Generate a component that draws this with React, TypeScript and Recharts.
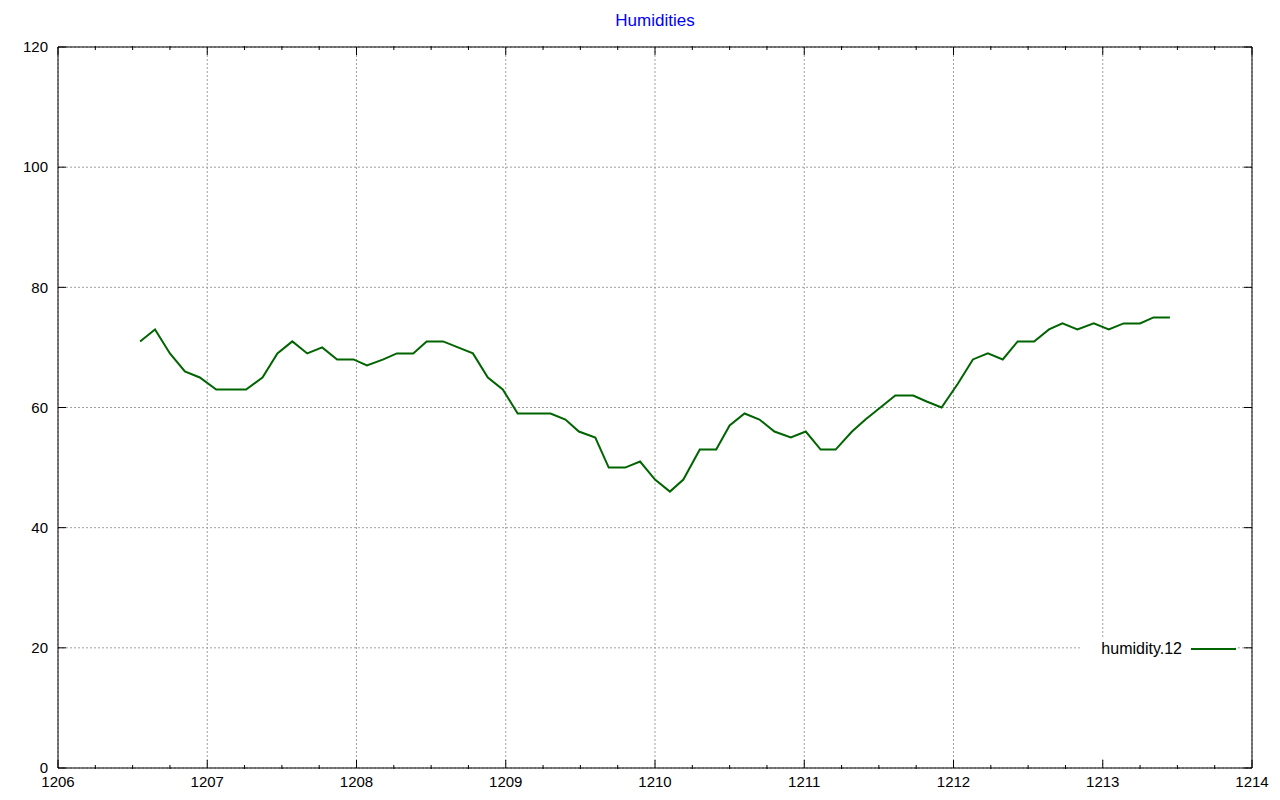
import { CartesianGrid, Line, LineChart, ReferenceArea, XAxis, YAxis } from 'recharts'

// time (day.fraction) of each reading
const TIMES = [
  1206.55, 1206.65, 1206.75, 1206.85, 1206.95,
  1207.06, 1207.16, 1207.26, 1207.37, 1207.47, 1207.57, 1207.67, 1207.77, 1207.87, 1207.98,
  1208.07, 1208.18, 1208.27, 1208.38, 1208.47, 1208.58, 1208.68, 1208.78, 1208.88, 1208.98,
  1209.08, 1209.19, 1209.3, 1209.4, 1209.49, 1209.6, 1209.69, 1209.8, 1209.9,
  1210.0, 1210.1, 1210.19, 1210.3, 1210.41, 1210.5, 1210.6, 1210.7, 1210.8, 1210.91,
  1211.01, 1211.11, 1211.21, 1211.32, 1211.41, 1211.51, 1211.61, 1211.73, 1211.82, 1211.92,
  1212.03, 1212.13, 1212.23, 1212.33, 1212.43, 1212.54, 1212.64, 1212.73, 1212.83, 1212.94,
  1213.04, 1213.14, 1213.25, 1213.34, 1213.45,
]

const HUMIDITY_12 = [
  71, 73, 69, 66, 65,
  63, 63, 63, 65, 69, 71, 69, 70, 68, 68,
  67, 68, 69, 69, 71, 71, 70, 69, 65, 63,
  59, 59, 59, 58, 56, 55, 50, 50, 51,
  48, 46, 48, 53, 53, 57, 59, 58, 56, 55,
  56, 53, 53, 56, 58, 60, 62, 62, 61, 60,
  64, 68, 69, 68, 71, 71, 73, 74, 73, 74,
  73, 74, 74, 75, 75,
]

const X_TICKS = [1206, 1207, 1208, 1209, 1210, 1211, 1212, 1213, 1214]
const X_MINOR_TICKS = [
  1206.25, 1206.5, 1206.75, 1207.25, 1207.5, 1207.75, 1208.25, 1208.5, 1208.75,
  1209.25, 1209.5, 1209.75, 1210.25, 1210.5, 1210.75, 1211.25, 1211.5, 1211.75,
  1212.25, 1212.5, 1212.75, 1213.25, 1213.5, 1213.75,
]
const Y_TICKS = [0, 20, 40, 60, 80, 100, 120]

const SERIES_NAME = 'humidity.12'
const TITLE = 'Humidities'

const data = TIMES.map((t, i) => ({ t, h: HUMIDITY_12[i] }))

const FONT = '"Liberation Sans", Arial, sans-serif'
const INK = '#000000'
const LINE_COLOR = '#006400'
const blank = () => ''

export default function App() {
  return (
    <div style={{ position: 'absolute', left: 0, top: 0, width: 1280, height: 800, background: '#fff', fontFamily: FONT }}>
      <div
        style={{
          position: 'absolute',
          left: 0,
          width: 1310,
          top: 10,
          textAlign: 'center',
          color: '#0000ff',
          fontSize: 17,
          lineHeight: '22px',
        }}
      >
        {TITLE}
      </div>
      <LineChart width={1280} height={800} data={data} margin={{ top: 45, right: 27, bottom: 30, left: 57 }}>
        <CartesianGrid stroke="#a0a0a0" strokeDasharray="2 2" />
        <XAxis
          dataKey="t"
          type="number"
          domain={[1206, 1214]}
          ticks={X_TICKS}
          interval={0}
          height={1}
          allowDataOverflow
          tickSize={-8}
          tickMargin={16}
          axisLine={{ stroke: INK }}
          tickLine={{ stroke: INK }}
          tick={{ fill: INK, fontSize: 15, fontFamily: FONT }}
        />
        <XAxis
          xAxisId="minor"
          dataKey="t"
          type="number"
          domain={[1206, 1214]}
          ticks={X_MINOR_TICKS}
          interval={0}
          height={1}
          allowDataOverflow
          tickSize={-4}
          axisLine={false}
          tickLine={{ stroke: INK }}
          tickFormatter={blank}
        />
        <XAxis
          xAxisId="top"
          orientation="top"
          dataKey="t"
          type="number"
          domain={[1206, 1214]}
          ticks={X_TICKS}
          interval={0}
          height={1}
          allowDataOverflow
          tickSize={-8}
          axisLine={{ stroke: INK }}
          tickLine={{ stroke: INK }}
          tickFormatter={blank}
        />
        <XAxis
          xAxisId="topMinor"
          orientation="top"
          dataKey="t"
          type="number"
          domain={[1206, 1214]}
          ticks={X_MINOR_TICKS}
          interval={0}
          height={1}
          allowDataOverflow
          tickSize={-4}
          axisLine={false}
          tickLine={{ stroke: INK }}
          tickFormatter={blank}
        />
        <YAxis
          type="number"
          domain={[0, 120]}
          ticks={Y_TICKS}
          interval={0}
          width={1}
          allowDataOverflow
          tickSize={-8}
          tickMargin={18}
          axisLine={{ stroke: INK }}
          tickLine={{ stroke: INK }}
          tick={{ fill: INK, fontSize: 15, fontFamily: FONT }}
        />
        <YAxis
          yAxisId="right"
          orientation="right"
          type="number"
          domain={[0, 120]}
          ticks={Y_TICKS}
          interval={0}
          width={1}
          allowDataOverflow
          tickSize={-8}
          axisLine={{ stroke: INK }}
          tickLine={{ stroke: INK }}
          tickFormatter={blank}
        />
        {/* opaque key box, like gnuplot's */}
        <ReferenceArea x1={1212.85} x2={1213.89} y1={1.5} y2={21.7} fill="#ffffff" fillOpacity={1} stroke="none" ifOverflow="visible" />
        <Line
          type="linear"
          dataKey="h"
          name={SERIES_NAME}
          stroke={LINE_COLOR}
          strokeWidth={2}
          dot={false}
          activeDot={false}
          isAnimationActive={false}
        />
      </LineChart>
      <div
        style={{
          position: 'absolute',
          left: 1060,
          top: 638,
          width: 180,
          height: 22,
          display: 'flex',
          alignItems: 'center',
          justifyContent: 'flex-end',
          fontSize: 16,
          color: INK,
        }}
      >
        <span>{SERIES_NAME}</span>
        <span style={{ display: 'inline-block', width: 45, height: 2, background: LINE_COLOR, marginLeft: 9, marginRight: 4 }} />
      </div>
    </div>
  )
}
